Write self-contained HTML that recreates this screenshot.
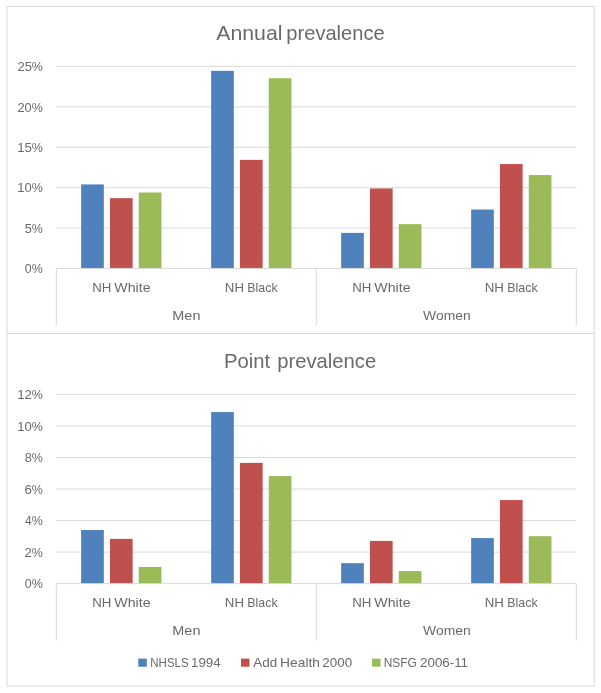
<!DOCTYPE html>
<html lang="en">
<head>
<meta charset="utf-8">
<title>Annual and point prevalence</title>
<style>
html,body{margin:0;padding:0;background:#fff;}
body{width:601px;height:693px;overflow:hidden;}
svg{display:block;}
svg text{font-family:"Liberation Sans",sans-serif;fill:#6a6a6a;}
</style>
</head>
<body>
<svg width="601" height="693" viewBox="0 0 601 693">
<rect x="0" y="0" width="601" height="693" fill="#ffffff"/>
<line x1="7" y1="6.4" x2="594.2" y2="6.4" stroke="#D9D9D9" stroke-width="1"/>
<line x1="7" y1="333.5" x2="594.2" y2="333.5" stroke="#D9D9D9" stroke-width="1"/>
<line x1="7" y1="686" x2="594.2" y2="686" stroke="#D9D9D9" stroke-width="1"/>
<line x1="7" y1="5.9" x2="7" y2="686.5" stroke="#D9D9D9" stroke-width="1"/>
<line x1="594.2" y1="5.9" x2="594.2" y2="686.5" stroke="#D9D9D9" stroke-width="1"/>
<line x1="56.3" y1="228.05" x2="576.3" y2="228.05" stroke="#D9D9D9" stroke-width="1"/>
<line x1="56.3" y1="187.65" x2="576.3" y2="187.65" stroke="#D9D9D9" stroke-width="1"/>
<line x1="56.3" y1="147.25" x2="576.3" y2="147.25" stroke="#D9D9D9" stroke-width="1"/>
<line x1="56.3" y1="106.85" x2="576.3" y2="106.85" stroke="#D9D9D9" stroke-width="1"/>
<line x1="56.3" y1="66.45" x2="576.3" y2="66.45" stroke="#D9D9D9" stroke-width="1"/>
<rect x="81.14" y="184.42" width="22.69" height="84.03" fill="#4F81BD"/>
<rect x="109.96" y="198.15" width="22.69" height="70.3" fill="#C0504D"/>
<rect x="138.77" y="192.5" width="22.69" height="75.95" fill="#9BBB59"/>
<rect x="211.14" y="70.81" width="22.69" height="197.64" fill="#4F81BD"/>
<rect x="239.96" y="159.85" width="22.69" height="108.6" fill="#C0504D"/>
<rect x="268.77" y="78.17" width="22.69" height="190.28" fill="#9BBB59"/>
<rect x="341.14" y="232.9" width="22.69" height="35.55" fill="#4F81BD"/>
<rect x="369.96" y="188.46" width="22.69" height="79.99" fill="#C0504D"/>
<rect x="398.77" y="224.17" width="22.69" height="44.28" fill="#9BBB59"/>
<rect x="471.14" y="209.55" width="22.69" height="58.9" fill="#4F81BD"/>
<rect x="499.96" y="164.06" width="22.69" height="104.39" fill="#C0504D"/>
<rect x="528.77" y="175.05" width="22.69" height="93.4" fill="#9BBB59"/>
<line x1="56.3" y1="268.45" x2="576.3" y2="268.45" stroke="#D9D9D9" stroke-width="1"/>
<line x1="56.3" y1="268.45" x2="56.3" y2="325.35" stroke="#D9D9D9" stroke-width="1"/>
<line x1="316.3" y1="268.45" x2="316.3" y2="325.35" stroke="#D9D9D9" stroke-width="1"/>
<line x1="576.3" y1="268.45" x2="576.3" y2="325.35" stroke="#D9D9D9" stroke-width="1"/>
<text y="273.1" font-size="13.5"><tspan x="24.81" textLength="6.9" lengthAdjust="spacingAndGlyphs">0</tspan><tspan x="31.71" textLength="11.06" lengthAdjust="spacingAndGlyphs">%</tspan></text>
<text y="232.7" font-size="13.5"><tspan x="24.8" textLength="7.12" lengthAdjust="spacingAndGlyphs">5</tspan><tspan x="31.71" textLength="11.06" lengthAdjust="spacingAndGlyphs">%</tspan></text>
<text y="192.3" font-size="13.5"><tspan x="17.18" textLength="14.54" lengthAdjust="spacingAndGlyphs">10</tspan><tspan x="31.71" textLength="11.06" lengthAdjust="spacingAndGlyphs">%</tspan></text>
<text y="151.9" font-size="13.5"><tspan x="17.17" textLength="14.77" lengthAdjust="spacingAndGlyphs">15</tspan><tspan x="31.71" textLength="11.06" lengthAdjust="spacingAndGlyphs">%</tspan></text>
<text y="111.5" font-size="13.5"><tspan x="17.4" textLength="14.32" lengthAdjust="spacingAndGlyphs">20</tspan><tspan x="31.71" textLength="11.06" lengthAdjust="spacingAndGlyphs">%</tspan></text>
<text y="71.1" font-size="13.5"><tspan x="17.39" textLength="14.54" lengthAdjust="spacingAndGlyphs">25</tspan><tspan x="31.71" textLength="11.06" lengthAdjust="spacingAndGlyphs">%</tspan></text>
<text y="292.45" font-size="13.5"><tspan x="92.17" textLength="19.11" lengthAdjust="spacingAndGlyphs">NH</tspan> <tspan x="114.3" textLength="36.28" lengthAdjust="spacingAndGlyphs">White</tspan></text>
<text y="292.45" font-size="13.5"><tspan x="224.86" textLength="19.17" lengthAdjust="spacingAndGlyphs">NH</tspan> <tspan x="247.33" textLength="30.38" lengthAdjust="spacingAndGlyphs">Black</tspan></text>
<text y="292.45" font-size="13.5"><tspan x="352.17" textLength="19.11" lengthAdjust="spacingAndGlyphs">NH</tspan> <tspan x="374.3" textLength="36.28" lengthAdjust="spacingAndGlyphs">White</tspan></text>
<text y="292.45" font-size="13.5"><tspan x="484.76" textLength="19.17" lengthAdjust="spacingAndGlyphs">NH</tspan> <tspan x="507.23" textLength="30.38" lengthAdjust="spacingAndGlyphs">Black</tspan></text>
<text y="320.35" font-size="13.5"><tspan x="172.37" textLength="28.04" lengthAdjust="spacingAndGlyphs">Men</tspan></text>
<text y="320.35" font-size="13.5"><tspan x="423.1" textLength="47.58" lengthAdjust="spacingAndGlyphs">Women</tspan></text>
<text y="40.3" font-size="20.4"><tspan x="216.2" textLength="66.3" lengthAdjust="spacingAndGlyphs">Annual</tspan> <tspan x="286.34" textLength="98.37" lengthAdjust="spacingAndGlyphs">prevalence</tspan></text>
<line x1="56.3" y1="552.11" x2="576.3" y2="552.11" stroke="#D9D9D9" stroke-width="1"/>
<line x1="56.3" y1="520.57" x2="576.3" y2="520.57" stroke="#D9D9D9" stroke-width="1"/>
<line x1="56.3" y1="489.03" x2="576.3" y2="489.03" stroke="#D9D9D9" stroke-width="1"/>
<line x1="56.3" y1="457.49" x2="576.3" y2="457.49" stroke="#D9D9D9" stroke-width="1"/>
<line x1="56.3" y1="425.95" x2="576.3" y2="425.95" stroke="#D9D9D9" stroke-width="1"/>
<line x1="56.3" y1="394.41" x2="576.3" y2="394.41" stroke="#D9D9D9" stroke-width="1"/>
<rect x="81.14" y="530.03" width="22.69" height="53.62" fill="#4F81BD"/>
<rect x="109.96" y="538.86" width="22.69" height="44.79" fill="#C0504D"/>
<rect x="138.77" y="566.93" width="22.69" height="16.72" fill="#9BBB59"/>
<rect x="211.14" y="412.07" width="22.69" height="171.58" fill="#4F81BD"/>
<rect x="239.96" y="462.85" width="22.69" height="120.8" fill="#C0504D"/>
<rect x="268.77" y="476.1" width="22.69" height="107.55" fill="#9BBB59"/>
<rect x="341.14" y="563.15" width="22.69" height="20.5" fill="#4F81BD"/>
<rect x="369.96" y="540.91" width="22.69" height="42.74" fill="#C0504D"/>
<rect x="398.77" y="571.03" width="22.69" height="12.62" fill="#9BBB59"/>
<rect x="471.14" y="538.07" width="22.69" height="45.58" fill="#4F81BD"/>
<rect x="499.96" y="500.07" width="22.69" height="83.58" fill="#C0504D"/>
<rect x="528.77" y="536.18" width="22.69" height="47.47" fill="#9BBB59"/>
<line x1="56.3" y1="583.65" x2="576.3" y2="583.65" stroke="#D9D9D9" stroke-width="1"/>
<line x1="56.3" y1="583.65" x2="56.3" y2="640.55" stroke="#D9D9D9" stroke-width="1"/>
<line x1="316.3" y1="583.65" x2="316.3" y2="640.55" stroke="#D9D9D9" stroke-width="1"/>
<line x1="576.3" y1="583.65" x2="576.3" y2="640.55" stroke="#D9D9D9" stroke-width="1"/>
<text y="588.3" font-size="13.5"><tspan x="24.81" textLength="6.9" lengthAdjust="spacingAndGlyphs">0</tspan><tspan x="31.71" textLength="11.06" lengthAdjust="spacingAndGlyphs">%</tspan></text>
<text y="556.76" font-size="13.5"><tspan x="24.58" textLength="7.36" lengthAdjust="spacingAndGlyphs">2</tspan><tspan x="31.71" textLength="11.06" lengthAdjust="spacingAndGlyphs">%</tspan></text>
<text y="525.22" font-size="13.5"><tspan x="25.01" textLength="6.69" lengthAdjust="spacingAndGlyphs">4</tspan><tspan x="31.71" textLength="11.06" lengthAdjust="spacingAndGlyphs">%</tspan></text>
<text y="493.68" font-size="13.5"><tspan x="24.58" textLength="7.36" lengthAdjust="spacingAndGlyphs">6</tspan><tspan x="31.71" textLength="11.06" lengthAdjust="spacingAndGlyphs">%</tspan></text>
<text y="462.14" font-size="13.5"><tspan x="24.8" textLength="7.12" lengthAdjust="spacingAndGlyphs">8</tspan><tspan x="31.71" textLength="11.06" lengthAdjust="spacingAndGlyphs">%</tspan></text>
<text y="430.6" font-size="13.5"><tspan x="17.18" textLength="14.54" lengthAdjust="spacingAndGlyphs">10</tspan><tspan x="31.71" textLength="11.06" lengthAdjust="spacingAndGlyphs">%</tspan></text>
<text y="399.06" font-size="13.5"><tspan x="17.17" textLength="14.77" lengthAdjust="spacingAndGlyphs">12</tspan><tspan x="31.71" textLength="11.06" lengthAdjust="spacingAndGlyphs">%</tspan></text>
<text y="606.95" font-size="13.5"><tspan x="92.17" textLength="19.11" lengthAdjust="spacingAndGlyphs">NH</tspan> <tspan x="114.3" textLength="36.28" lengthAdjust="spacingAndGlyphs">White</tspan></text>
<text y="606.95" font-size="13.5"><tspan x="224.86" textLength="19.17" lengthAdjust="spacingAndGlyphs">NH</tspan> <tspan x="247.33" textLength="30.38" lengthAdjust="spacingAndGlyphs">Black</tspan></text>
<text y="606.95" font-size="13.5"><tspan x="352.17" textLength="19.11" lengthAdjust="spacingAndGlyphs">NH</tspan> <tspan x="374.3" textLength="36.28" lengthAdjust="spacingAndGlyphs">White</tspan></text>
<text y="606.95" font-size="13.5"><tspan x="484.76" textLength="19.17" lengthAdjust="spacingAndGlyphs">NH</tspan> <tspan x="507.23" textLength="30.38" lengthAdjust="spacingAndGlyphs">Black</tspan></text>
<text y="635.25" font-size="13.5"><tspan x="172.37" textLength="28.04" lengthAdjust="spacingAndGlyphs">Men</tspan></text>
<text y="635.25" font-size="13.5"><tspan x="423.1" textLength="47.58" lengthAdjust="spacingAndGlyphs">Women</tspan></text>
<text y="367.5" font-size="20.4"><tspan x="224.02" textLength="46.11" lengthAdjust="spacingAndGlyphs">Point</tspan> <tspan x="277.13" textLength="99.09" lengthAdjust="spacingAndGlyphs">prevalence</tspan></text>
<rect x="138.3" y="658.6" width="8.5" height="8.1" fill="#4F81BD"/>
<text y="666.9" font-size="13.4"><tspan x="150.3" textLength="38.38" lengthAdjust="spacingAndGlyphs">NHSLS</tspan> <tspan x="191.07" textLength="29.61" lengthAdjust="spacingAndGlyphs">1994</tspan></text>
<rect x="241" y="658.6" width="8.5" height="8.1" fill="#C0504D"/>
<text y="666.9" font-size="13.4"><tspan x="253.2" textLength="23.96" lengthAdjust="spacingAndGlyphs">Add</tspan> <tspan x="280.12" textLength="39.85" lengthAdjust="spacingAndGlyphs">Health</tspan> <tspan x="322.27" textLength="29.86" lengthAdjust="spacingAndGlyphs">2000</tspan></text>
<rect x="372" y="658.6" width="8.5" height="8.1" fill="#9BBB59"/>
<text y="666.9" font-size="13.4"><tspan x="383.67" textLength="33.23" lengthAdjust="spacingAndGlyphs">NSFG</tspan> <tspan x="420.07" textLength="47.97" lengthAdjust="spacingAndGlyphs">2006-11</tspan></text>
</svg>
</body>
</html>
